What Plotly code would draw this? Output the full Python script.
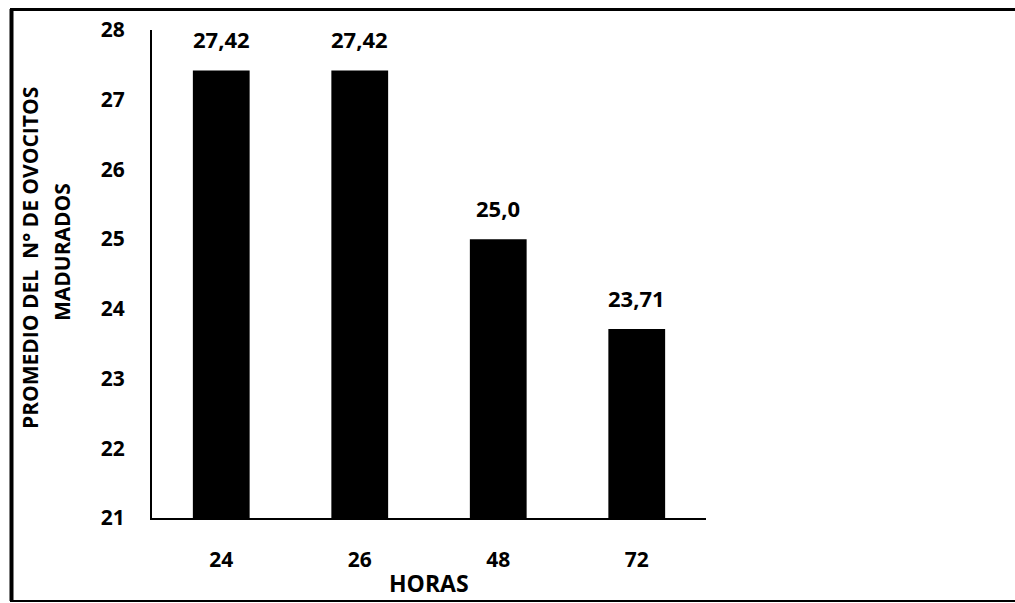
import plotly.graph_objects as go

# Data: average number of matured oocytes by incubation time (hours)
horas = ["24", "26", "48", "72"]
promedio = [27.42, 27.42, 25.0, 23.71]
etiquetas = ["27,42", "27,42", "25,0", "23,71"]
y_ticks = [21, 22, 23, 24, 25, 26, 27, 28]

FONT = "Open Sans"

# Pixel geometry of the plotting area
W, H = 1015, 603
L, R, T, B = 152, 309, 30, 85
plot_w = W - L - R
plot_h = H - T - B


def px_x(x):
    return (x - L) / plot_w


def px_y(y):
    return (H - B - y) / plot_h


fig = go.Figure(
    go.Bar(
        x=horas,
        y=promedio,
        marker=dict(color="black", line=dict(width=0)),
        width=0.41,
    )
)

# Value labels above each bar (category index positions)
for i, (v, lab) in enumerate(zip(promedio, etiquetas)):
    fig.add_annotation(
        x=i, y=v, xref="x", yref="y", text=lab, showarrow=False,
        xanchor="center", yanchor="bottom", yshift=14,
        font=dict(family=FONT, size=22, color="black", weight="bold"),
    )

tick_font = dict(family=FONT, size=21, color="black", weight="bold")
title_font = dict(family=FONT, size=21, color="black", weight="bold")

fig.update_layout(
    width=W,
    height=H,
    margin=dict(l=L, r=R, t=T, b=B),
    paper_bgcolor="white",
    plot_bgcolor="white",
    showlegend=False,
    font=dict(family=FONT, color="black"),
    xaxis=dict(
        type="category",
        categoryorder="array",
        categoryarray=horas,
        range=[-0.5, len(horas) - 0.5],
        showline=True,
        linecolor="black",
        linewidth=2,
        showgrid=False,
        ticks="",
        ticklabelstandoff=22,
        tickfont=tick_font,
    ),
    yaxis=dict(
        range=[21, 28],
        tickvals=y_ticks,
        showline=True,
        linecolor="black",
        linewidth=2,
        showgrid=False,
        zeroline=False,
        ticks="",
        ticklabelstandoff=21,
        tickfont=tick_font,
    ),
)

fig.add_annotation(
    text="HORAS", xref="paper", yref="paper", x=0.5, y=px_y(583),
    xanchor="center", yanchor="middle", showarrow=False,
    font=dict(family=FONT, size=23, color="black", weight="bold"),
)
fig.add_annotation(
    text="PROMEDIO DEL  N° DE OVOCITOS", xref="paper", yref="paper",
    x=px_x(30), y=px_y(258), xanchor="center", yanchor="middle",
    showarrow=False, textangle=-90, font=title_font,
)
fig.add_annotation(
    text="MADURADOS", xref="paper", yref="paper",
    x=px_x(62), y=px_y(252), xanchor="center", yanchor="middle",
    showarrow=False, textangle=-90, font=title_font,
)

# Outer frame: heavy left and top edges, thin bottom edge
fig.add_shape(type="line", xref="paper", yref="paper",
              x0=px_x(11.5), x1=px_x(11.5), y0=px_y(601), y1=px_y(9),
              line=dict(color="black", width=4))
fig.add_shape(type="line", xref="paper", yref="paper",
              x0=px_x(10), x1=px_x(W), y0=px_y(9.5), y1=px_y(9.5),
              line=dict(color="black", width=3))
fig.add_shape(type="line", xref="paper", yref="paper",
              x0=px_x(10), x1=px_x(W), y0=px_y(601), y1=px_y(601),
              line=dict(color="black", width=2))

fig.write_html("out.html")
